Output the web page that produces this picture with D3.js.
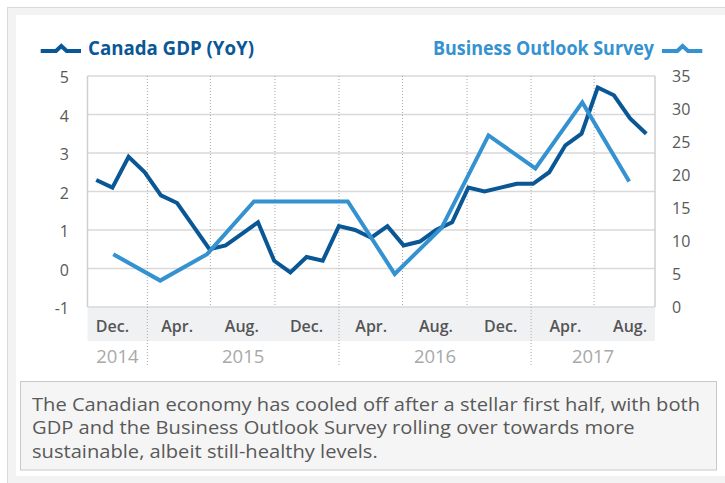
<!DOCTYPE html>
<html><head><meta charset="utf-8">
<script src="https://cdn.jsdelivr.net/npm/d3@7"></script>
<style>
body{margin:0;background:#fff;}
svg{display:block;font-family:"Open Sans",sans-serif;}
</style>
</head><body>
<svg id="c" width="725" height="483"></svg>
<script>
// ---------- data ----------
const gdpMonths = ["2014-11","2014-12","2015-01","2015-02","2015-03","2015-04","2015-05","2015-06","2015-07","2015-08","2015-09","2015-10","2015-11","2015-12",
  "2016-01","2016-02","2016-03","2016-04","2016-05","2016-06","2016-07","2016-08","2016-09","2016-10","2016-11","2016-12",
  "2017-01","2017-02","2017-03","2017-04","2017-05","2017-06","2017-07","2017-08","2017-09"];
const gdpValues = [2.3,2.1,2.9,2.5,1.9,1.7,1.1,0.5,0.6,0.9,1.2,0.2,-0.1,0.3,
  0.2,1.1,1.0,0.8,1.1,0.6,0.7,1.0,1.2,2.1,2.0,2.1,
  2.2,2.2,2.5,3.2,3.5,4.7,4.5,3.9,3.5];
const bosQuarters = ["2014Q4","2015Q1","2015Q2","2015Q3","2015Q4","2016Q1","2016Q2","2016Q3","2016Q4","2017Q1","2017Q2","2017Q3"];
const bosValues = [8,4,8,16,16,16,5,12,26,21,31,19];
const leftTicks = [-1,0,1,2,3,4,5];
const rightTicks = [0,5,10,15,20,25,30,35];
const monthLabelCats = ["2014-12","2015-04","2015-08","2015-12","2016-04","2016-08","2016-12","2017-04","2017-08"];
const monthLabels = ["Dec.","Apr.","Aug.","Dec.","Apr.","Aug.","Dec.","Apr.","Aug."];
const gridDates = ["2015-01-01","2015-05-01","2015-09-01","2016-01-01","2016-05-01","2016-09-01","2017-01-01","2017-05-01"];
const timeDomain = ["2014-09-09","2017-08-25"];
const years = [2014,2015,2016,2017];
const legendLabels = ["Canada GDP (YoY)","Business Outlook Survey"];
const captionLines = [
  "The Canadian economy has cooled off after a stellar first half, with both",
  "GDP and the Business Outlook Survey rolling over towards more",
  "sustainable, albeit still-healthy levels."
];

// ---------- style ----------
const C_GDP = "#0a5796", C_BOS = "#3592d1";
const L = 87.5, R = 655, T = 76, B = 307;

const svg = d3.select("#c");
const parse = d3.utcParse("%Y-%m-%d");

// frame
svg.append("rect").attr("x",7.5).attr("y",7.5).attr("width",760).attr("height",520)
  .attr("fill","#f3f3f3").attr("stroke","#d9d9d9");
svg.append("rect").attr("x",16).attr("y",15).attr("width",720).attr("height",461).attr("fill","#fff");

// scales
const xG = d3.scalePoint().domain(gdpMonths).range([L,R]).padding(0.54);
const xB = d3.scalePoint().domain(bosQuarters).range([L,R]).padding(0.55);
const xT = d3.scaleUtc().domain(timeDomain.map(parse)).range([L,R]);
const yL = d3.scaleLinear().domain([-1,5]).range([B,T]);
const yR = d3.scaleLinear().domain([0,35]).range([B,T]);

// x label band
svg.append("rect").attr("x",L).attr("y",B).attr("width",R-L).attr("height",34).attr("fill","#f0f1f3");

// horizontal gridlines
svg.append("g").selectAll("line").data(leftTicks).join("line")
  .attr("x1",L).attr("x2",R).attr("y1",d=>yL(d)).attr("y2",d=>yL(d))
  .attr("stroke","#d9d9d9").attr("stroke-width",1.5);

// vertical dotted gridlines
svg.append("g").selectAll("line").data(gridDates).join("line")
  .attr("x1",d=>xT(parse(d))).attr("x2",d=>xT(parse(d)))
  .attr("y1",T).attr("y2",d=>parse(d).getUTCMonth()===0 ? 366 : B)
  .attr("stroke","#a8a8a8").attr("stroke-width",1).attr("stroke-dasharray","1,2");

// plot borders
svg.append("line").attr("x1",L).attr("x2",L).attr("y1",T).attr("y2",B).attr("stroke","#cfcfcf").attr("stroke-width",1.5);
svg.append("line").attr("x1",R).attr("x2",R).attr("y1",T).attr("y2",B).attr("stroke","#cfcfcf").attr("stroke-width",1.5);

// left axis labels
svg.append("g").selectAll("text").data(leftTicks).join("text")
  .attr("x",69).attr("y",d=>yL(d)+3).attr("text-anchor","end").attr("dominant-baseline","middle")
  .attr("font-size",16).attr("fill","#595959").text(d=>d);
// right axis labels
svg.append("g").selectAll("text").data(rightTicks).join("text")
  .attr("x",672).attr("y",d=>yR(d)+2).attr("text-anchor","start").attr("dominant-baseline","middle")
  .attr("font-size",16).attr("fill","#595959").text(d=>d);

// month labels
svg.append("g").selectAll("text").data(monthLabelCats).join("text")
  .attr("x",d=>xG(d)).attr("y",332).attr("text-anchor","middle")
  .attr("font-size",16).attr("font-weight",600).attr("fill","#555").text((d,i)=>monthLabels[i]);

// year labels
svg.append("g").selectAll("text").data(years).join("text")
  .attr("x",d=>{
    const a = Math.max(L, xT(new Date(Date.UTC(d,0,1))));
    const b = Math.min(R, xT(new Date(Date.UTC(d+1,0,1))));
    return (a+b)/2;})
  .attr("y",362.5).attr("text-anchor","middle")
  .attr("font-size",18.5).attr("fill","#a9a9a9").text(d=>d);

// lines
const lineG = d3.line().x((d,i)=>xG(gdpMonths[i])).y(d=>yL(d));
const lineB = d3.line().x((d,i)=>xB(bosQuarters[i])).y(d=>yR(d));
svg.append("path").datum(gdpValues).attr("d",lineG).attr("fill","none")
  .attr("stroke",C_GDP).attr("stroke-width",4);
svg.append("path").datum(bosValues).attr("d",lineB).attr("fill","none")
  .attr("stroke",C_BOS).attr("stroke-width",4);

// legend
const glyph = [[0,0],[15.3,0],[20.6,-5],[26,0],[40.3,0]];
const gl = d3.line();
svg.append("path").attr("d",gl(glyph.map(p=>[40.7+p[0],51+p[1]]))).attr("fill","none")
  .attr("stroke",C_GDP).attr("stroke-width",4);
svg.append("path").attr("d",gl(glyph.map(p=>[662+p[0],51+p[1]]))).attr("fill","none")
  .attr("stroke",C_BOS).attr("stroke-width",4);
svg.append("text").attr("x",88).attr("y",54.5).attr("font-size",19).attr("font-weight",700)
  .attr("fill",C_GDP).attr("textLength",166).attr("lengthAdjust","spacingAndGlyphs").text(legendLabels[0]);
svg.append("text").attr("x",654).attr("y",54.5).attr("text-anchor","end").attr("font-size",19).attr("font-weight",700)
  .attr("fill",C_BOS).attr("textLength",221).attr("lengthAdjust","spacingAndGlyphs").text(legendLabels[1]);

// caption box
svg.append("rect").attr("x",20.5).attr("y",381.5).attr("width",696).attr("height",88.5)
  .attr("fill","#f5f5f5").attr("stroke","#c9c9c9");
const capFont = 18.5;
const caps = svg.append("g").selectAll("text").data(captionLines).join("text")
  .attr("x",32).attr("y",(d,i)=>410.5+i*23.5).attr("font-size",capFont).attr("fill","#595959").text(d=>d);
const nat0 = caps.nodes()[0].getComputedTextLength();
const k = 668/nat0;
caps.each(function(){ const w=this.getComputedTextLength(); d3.select(this).attr("textLength",w*k).attr("lengthAdjust","spacingAndGlyphs"); });
</script>
</body></html>
